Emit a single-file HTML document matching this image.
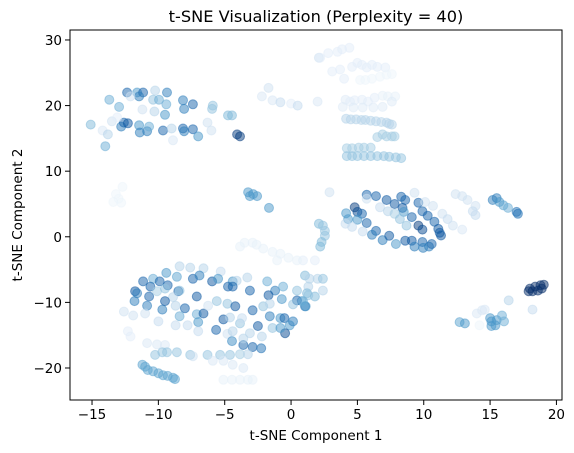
<!DOCTYPE html>
<html><head><meta charset="utf-8"><style>
html,body{margin:0;padding:0;background:#fff;}
svg{display:block;font-family:"DejaVu Sans","Liberation Sans",sans-serif;}
</style></head><body>
<svg id="chart" width="574" height="453" viewBox="0 0 574 453" xmlns="http://www.w3.org/2000/svg">
<text x="316" y="22" text-anchor="middle" font-size="16.2">t-SNE Visualization (Perplexity = 40)</text>
<text x="316" y="440" text-anchor="middle" font-size="13.5">t-SNE Component 1</text>
<text x="22" y="215" text-anchor="middle" font-size="13.5" transform="rotate(-90 22 215)">t-SNE Component 2</text>
<g id="points"></g>
<g id="axes"></g>
</svg>
<script>
const xTicks = [-15, -10, -5, 0, 5, 10, 15, 20];
const yTicks = [-20, -10, 0, 10, 20, 30];
const xTickLabels = ["\u221215", "\u221210", "\u22125", "0", "5", "10", "15", "20"];
const yTickLabels = ["\u221220", "\u221210", "0", "10", "20", "30"];
const xDomain = [-16.66, 20.42];
const yDomain = [-24.88, 31.52];

// [x, y, colorValue]
const clusterTopLeft = [
[-12.36,22.0,.8],[-11.6,22.0,.6],[-11.15,22.0,.8],[-10.25,22.3,.3],[-9.35,22.0,.7],[-13.7,20.9,.5],[-12.96,19.8,.5],
[-11.45,21.4,.7],[-10.4,20.9,.4],[-9.95,20.9,.5],[-9.4,20.2,.5],[-8.14,20.8,.7],[-8.06,19.5,.7],[-7.4,20.2,.8],
[-5.9,20.0,.4],[-5.95,19.5,.4],[-9.5,18.6,.6],[-11.2,19.4,.2],[-10.3,19.1,.3],[-12.1,21.4,.2],[-4.75,18.5,.45],[-4.45,18.5,.45],
[-2.2,21.4,.15],[-1.7,22.7,.2],[-1.4,20.8,.15],[-0.8,20.5,.25],[0,20.3,.1],[0.5,20.0,.25],[2.0,20.6,.15],[2.1,27.3,.2],
[-15.1,17.1,.45],[-14.2,16.2,.15],[-13.8,15.6,.3],[-13.5,17.6,.2],[-14.0,13.8,.5],[-12.8,16.8,.7],[-12.6,17.4,.8],
[-12.3,17.3,.85],[-11.45,17.0,.6],[-11.4,15.9,.7],[-10.85,16.1,.7],[-10.7,16.8,.5],[-9.65,16.2,.8],[-9.0,16.5,.3],
[-8.9,14.7,.15],[-8.14,16.5,.8],[-8.06,16.1,.7],[-7.4,16.4,.8],[-7.0,15.3,.6],[-6.3,17.4,.2],[-6.0,16.2,.2],
[-4.07,15.6,.95],[-3.85,15.3,.95],[-13.1,18.2,.1],
[-13.0,5.8,.05],[-13.4,5.3,.05],[-12.7,7.6,.05],[-13.2,6.5,.05],[-12.8,5.2,.05],
[-3.24,6.8,.6],[-2.86,6.5,.6],[-2.56,6.2,.6],[-3.1,6.2,.6],[-1.66,4.4,.6]
];
const clusterTopRight = [
[2.2,27.3,.1],[2.8,28.0,.1],[3.5,28.2,.1],[3.85,28.6,.1],[4.4,28.8,.1],[3.1,25.2,.1],[3.7,25.5,.1],[4.0,24.1,.1],
[4.6,25.9,.1],[5.0,26.5,.1],[5.35,26.2,.1],[5.7,25.8,.1],[6.1,26.2,.1],[6.5,25.9,.1],[7.1,25.8,.1],
[5.2,23.9,.05],[5.6,23.9,.05],[6.1,24.1,.05],[6.7,24.4,.05],[7.2,24.7,.05],[7.6,24.8,.05],
[4.1,20.9,.12],[4.45,20.6,.1],[4.8,20.8,.1],[5.35,20.9,.1],[5.8,20.6,.1],[6.3,21.2,.1],[6.9,21.5,.08],[7.3,21.4,.08],[7.85,21.4,.08],
[3.9,19.8,.12],[4.7,19.7,.12],[5.4,19.7,.12],[6.2,19.7,.12],[6.9,19.8,.12],[7.6,20.6,.12],
[4.15,18.0,.3],[4.5,17.9,.3],[4.9,17.9,.3],[5.3,17.8,.3],[5.6,17.8,.3],[6.0,17.7,.3],[6.4,17.6,.3],[6.8,17.5,.3],[7.2,17.4,.3],[7.4,17.2,.3],[7.6,17.1,.3],
[6.5,15.2,.35],[6.9,15.6,.35],[7.2,15.3,.35],[7.6,15.3,.35],[7.8,15.3,.35],
[4.2,13.5,.35],[4.6,13.5,.35],[5.1,13.6,.35],[5.5,13.6,.35],[6.0,13.6,.35],
[4.2,12.3,.4],[4.6,12.3,.4],[5.0,12.3,.4],[5.5,12.3,.4],[6.0,12.3,.4],[6.5,12.3,.4],[7.0,12.3,.4],[7.4,12.2,.4],[7.9,12.1,.4],[8.3,12.0,.4]
];
const clusterRight = [
[2.9,6.8,.2],
[5.7,6.4,.8],[6.4,6.2,.8],[7.2,5.6,.85],[7.8,5.0,.85],[8.3,6.1,.8],[8.6,5.6,.8],[8.4,4.4,.85],[8.5,3.8,.6],[9.1,3.0,.8],
[9.6,5.2,.8],[9.9,3.9,.8],[10.3,3.2,.8],[10.8,2.3,.8],[9.6,1.7,.95],[9.9,1.1,.9],[11.1,1.2,.85],[11.2,0.6,.85],[11.3,0.2,.85],
[4.8,4.5,.95],[5.0,3.8,.9],[5.35,3.5,.8],[4.15,3.6,.6],[4.3,2.7,.6],[5.0,2.6,.6],[5.7,2.1,.8],[6.4,0.9,.8],[6.1,0.3,.7],
[6.9,-0.5,.7],[7.4,0.15,.85],[7.9,-1.1,.6],[8.6,-0.6,.85],[9.1,-0.6,.85],[9.3,-1.5,.7],[9.9,-0.8,.8],[10.4,-1.5,.7],[10.6,-1.1,.8],[9.95,-1.7,.7],
[4.1,2.0,.25],[4.6,1.5,.25],[5.4,0.8,.25],[5.7,5.8,.2],[6.7,4.5,.25],[7.3,3.9,.3],[7.8,3.5,.35],[8.2,2.7,.4],[8.7,1.7,.4],
[9.3,6.7,.2],[10.1,5.3,.2],[10.7,4.7,.2],[11.4,3.5,.2],[11.8,2.7,.25],[12.2,1.7,.2],[12.9,1.1,.15],
[12.4,6.5,.2],[12.9,6.2,.2],[13.3,5.6,.2],[13.9,4.7,.2],[13.7,3.9,.25],[13.9,3.3,.25],
[15.2,5.6,.7],[15.5,5.9,.7],[15.7,5.3,.6],[16.0,4.8,.55],[16.35,4.4,.5],[17.0,3.8,.75],[17.1,3.5,.75],
[18.0,-7.9,1],[18.4,-7.6,1],[18.8,-7.4,1],[18.9,-7.9,1],[18.2,-8.3,1],[18.6,-8.2,1],[17.9,-8.3,1],[19.05,-7.3,1],
[16.4,-9.7,.3],[18.2,-11.1,.25],
[14.0,-11.7,.15],[14.4,-11.2,.15],[14.6,-11.1,.15],[12.7,-13.0,.55],[13.1,-13.2,.6],[15.1,-12.9,.6],[15.5,-12.7,.6],
[15.9,-12.0,.5],[16.05,-12.9,.5],[15.1,-13.6,.6],[15.4,-13.5,.6],[14.2,-13.5,.05],[15.0,-12.4,.6],
[2.1,2.0,.45],[2.4,1.7,.4],[2.55,0.9,.4],[2.55,0.15,.4],[2.3,-0.8,.45],[2.2,-1.5,.45],
[0.9,-3.6,.1],[1.8,-3.6,.1],
[1.05,-5.9,.45],[1.4,-6.4,.3],[2.0,-6.4,.3],[2.4,-6.4,.4],[1.3,-7.6,.3],[1.8,-9.1,.45],[1.2,-8.6,.45],[2.4,-8.2,.3],[1.05,-10.6,.75],[0.8,-9.8,.5]
];
const clusterBottomLeft = [
[-3.5,-0.9,.08],[-2.9,-0.9,.08],[-2.6,-1.2,.08],[-2.1,-1.8,.08],[-1.4,-2.3,.08],[-0.8,-2.6,.08],[-0.2,-3.2,.08],[0.45,-3.6,.08],[-1.05,-3.6,.08],[-3.85,-1.5,.08],
[-8.4,-4.5,.3],[-7.6,-4.7,.3],[-6.6,-4.8,.3],[-5.3,-5.3,.25],[-9.4,-5.5,.6],[-8.6,-6.1,.55],[-7.4,-6.4,.8],[-6.9,-5.9,.7],
[-5.95,-6.8,.85],[-5.5,-6.4,.6],[-4.4,-6.8,.6],[-4.1,-6.7,.3],[-3.3,-6.2,.3],[-1.8,-6.8,.5],[-1.2,-8.2,.7],[-0.6,-7.6,.5],[0.45,-8.2,.4],
[-11.15,-6.8,.8],[-10.4,-6.4,.5],[-9.9,-6.8,.8],[-9.3,-7.4,.8],[-10.6,-7.6,.8],[-11.75,-8.3,.85],[-11.6,-8.6,.7],[-11.8,-9.8,.7],
[-10.7,-9.1,.8],[-10.1,-8.3,.35],[-9.5,-7.9,.4],[-8.5,-8.3,.8],[-8.9,-9.2,.3],[-7.1,-9.1,.85],[-8.4,-8.2,.4],
[-4.75,-7.6,.8],[-4.4,-7.6,.8],[-3.1,-8.2,.8],[-1.7,-8.9,.85],[-0.7,-9.5,.6],[0.45,-9.7,.8],[1.3,-8.9,.4],
[-10.85,-10.5,.7],[-9.7,-11.1,.7],[-9.5,-9.8,.85],[-8.7,-10.5,.3],[-8.0,-10.9,.8],[-7.1,-11.8,.5],[-6.6,-11.7,.85],
[-6.25,-10.5,.2],[-5.6,-9.8,.4],[-4.8,-10.2,.4],[-4.2,-10.6,.85],[-2.9,-11.2,.8],[-2.1,-10.6,.4],[-1.6,-10.2,.3],
[0.15,-10.3,.4],[1.1,-10.6,.6],[0.9,-9.8,.5],
[-12.6,-11.4,.2],[-11.9,-12.0,.2],[-11.0,-11.7,.2],[-10.0,-12.9,.25],[-8.4,-12.1,.5],[-8.7,-13.5,.25],[-7.8,-13.5,.25],
[-7.0,-13.0,.6],[-7.0,-14.4,.25],[-5.65,-14.2,.8],[-5.1,-12.6,.85],[-4.6,-12.3,.3],[-3.85,-13.2,.4],[-3.7,-12.4,.25],
[-2.5,-13.6,.85],[-1.6,-12.1,.7],[-1.4,-13.9,.4],[-0.8,-12.4,.6],[-0.5,-12.4,.8],[-0.1,-13.5,.6],[0.15,-12.9,.7],[-0.45,-14.7,.9],[-0.8,-13.9,.6],
[-12.3,-14.4,.1],[-12.1,-15.2,.1],[-4.8,-14.8,.2],[-4.45,-15.9,.65],[-3.6,-16.5,.8],[-2.9,-16.8,.8],[-2.25,-17.0,.75],
[-2.2,-15.2,.3],[-3.1,-14.7,.3],[-3.6,-15.5,.3],[-4.4,-14.4,.3],
[-10.85,-16.2,.15],[-10.1,-16.4,.15],[-9.5,-16.5,.15],[-10.25,-18.0,.4],[-9.7,-17.6,.4],[-9.35,-17.6,.4],[-8.6,-17.6,.4],
[-7.6,-18.0,.4],[-7.4,-18.2,.2],[-6.3,-18.0,.4],[-5.35,-18.0,.4],[-4.6,-18.0,.4],[-3.85,-17.9,.35],[-3.25,-17.9,.3],
[-5.9,-18.9,.15],[-5.1,-18.9,.15],[-4.4,-19.5,.15],[-3.6,-20.0,.15],
[-11.2,-19.5,.55],[-11.0,-19.8,.55],[-10.8,-20.3,.55],[-10.4,-20.5,.55],[-10.0,-20.8,.55],[-9.65,-21.1,.55],[-9.3,-21.2,.55],[-8.9,-21.5,.55],[-8.75,-21.7,.55],
[-5.1,-21.8,.08],[-4.45,-21.8,.08],[-3.85,-21.8,.08],[-3.25,-21.8,.08],[-2.9,-21.8,.08]
];

const plot = {left: 70, right: 562, top: 30, bottom: 400};
const NS = "http://www.w3.org/2000/svg";
function xScale(v){ return plot.left + (v - xDomain[0]) / (xDomain[1] - xDomain[0]) * (plot.right - plot.left); }
function yScale(v){ return plot.bottom - (v - yDomain[0]) / (yDomain[1] - yDomain[0]) * (plot.bottom - plot.top); }
const stops = [[247,251,255],[222,235,247],[198,219,239],[158,202,225],[107,174,214],[66,146,198],[33,113,181],[8,81,156],[8,48,107]];
function blues(t){
  t = Math.max(0, Math.min(1, t)) * 8;
  const i = Math.min(7, Math.floor(t)), f = t - i;
  const a = stops[i], b = stops[i+1];
  return "rgb(" + a.map((v,k)=>Math.round(v + (b[k]-v)*f)).join(",") + ")";
}
const gp = document.getElementById("points");
[clusterTopLeft, clusterTopRight, clusterRight, clusterBottomLeft].forEach(cl => {
  cl.forEach(p => {
    const c = document.createElementNS(NS, "circle");
    
    
    c.setAttribute("cx", xScale(p[0]).toFixed(1));
    c.setAttribute("cy", yScale(p[1]).toFixed(1));
    c.setAttribute("r", "4.5");
    const col = blues(p[2]);
    c.setAttribute("fill", col);
    c.setAttribute("stroke", col);
    c.setAttribute("stroke-width", "1");
    c.setAttribute("fill-opacity", "0.5");
    c.setAttribute("stroke-opacity", "0.5");
    gp.appendChild(c);
  });
});
const ga = document.getElementById("axes");
const frame = document.createElementNS(NS, "rect");


frame.setAttribute("x", plot.left); frame.setAttribute("y", plot.top);
frame.setAttribute("width", plot.right - plot.left); frame.setAttribute("height", plot.bottom - plot.top);
frame.setAttribute("fill", "none"); frame.setAttribute("stroke", "#000"); frame.setAttribute("stroke-width", "1");
ga.appendChild(frame);
xTicks.forEach((v, i) => {
  const x = xScale(v);
  const l = document.createElementNS(NS, "line");
  
  
  l.setAttribute("x1", x); l.setAttribute("x2", x); l.setAttribute("y1", plot.bottom); l.setAttribute("y2", plot.bottom + 5);
  l.setAttribute("stroke", "#000");
  ga.appendChild(l);
  const t = document.createElementNS(NS, "text");
  
  
  t.setAttribute("x", x); t.setAttribute("y", plot.bottom + 19);
  t.setAttribute("text-anchor", "middle"); t.setAttribute("font-size", "13.5");
  t.textContent = xTickLabels[i];
  ga.appendChild(t);
});
yTicks.forEach((v, i) => {
  const y = yScale(v);
  const l = document.createElementNS(NS, "line");
  
  
  l.setAttribute("x1", plot.left - 5); l.setAttribute("x2", plot.left); l.setAttribute("y1", y); l.setAttribute("y2", y);
  l.setAttribute("stroke", "#000");
  ga.appendChild(l);
  const t = document.createElementNS(NS, "text");
  
  
  t.setAttribute("x", plot.left - 8); t.setAttribute("y", y + 5);
  t.setAttribute("text-anchor", "end"); t.setAttribute("font-size", "13.5");
  t.textContent = yTickLabels[i];
  ga.appendChild(t);
});
</script>
</body></html>
